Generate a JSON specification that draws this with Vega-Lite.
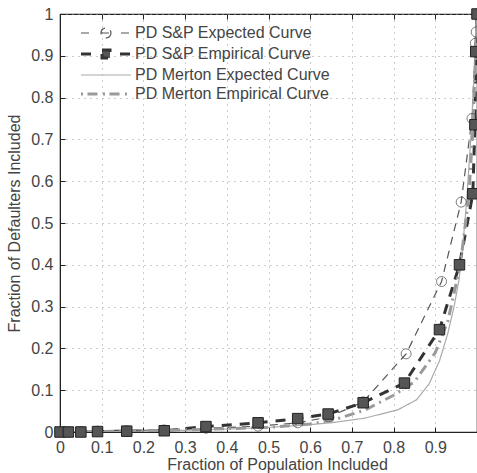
{
  "$schema": "https://vega.github.io/schema/vega-lite/v6.json",
  "width": 417,
  "height": 418,
  "autosize": {"type": "none"},
  "padding": {"left": 60, "top": 14, "right": 0, "bottom": 41},
  "background": "white",
  "config": {
    "font": "Liberation Sans",
    "view": {"stroke": "#222", "strokeWidth": 1.2},
    "axis": {"labelFont": "Liberation Sans", "titleFont": "Liberation Sans", "labelFontSize": 16, "titleFontSize": 16, "titleFontWeight": "normal", "labelColor": "#444", "titleColor": "#444", "domainColor": "#222", "tickColor": "#222", "gridColor": "#999", "gridDash": [1, 5], "gridWidth": 1}
  },
  "datasets": {
    "curves": [
      {"series": "PD S&P Expected Curve", "x": 0.0, "y": 0.0},
      {"series": "PD S&P Expected Curve", "x": 0.02, "y": 0.0},
      {"series": "PD S&P Expected Curve", "x": 0.05, "y": 0.001},
      {"series": "PD S&P Expected Curve", "x": 0.09, "y": 0.002},
      {"series": "PD S&P Expected Curve", "x": 0.16, "y": 0.003},
      {"series": "PD S&P Expected Curve", "x": 0.25, "y": 0.005},
      {"series": "PD S&P Expected Curve", "x": 0.35, "y": 0.009},
      {"series": "PD S&P Expected Curve", "x": 0.475, "y": 0.014},
      {"series": "PD S&P Expected Curve", "x": 0.57, "y": 0.022},
      {"series": "PD S&P Expected Curve", "x": 0.645, "y": 0.036},
      {"series": "PD S&P Expected Curve", "x": 0.727, "y": 0.072},
      {"series": "PD S&P Expected Curve", "x": 0.83, "y": 0.187},
      {"series": "PD S&P Expected Curve", "x": 0.915, "y": 0.36},
      {"series": "PD S&P Expected Curve", "x": 0.962, "y": 0.55},
      {"series": "PD S&P Expected Curve", "x": 0.988, "y": 0.75},
      {"series": "PD S&P Expected Curve", "x": 0.996, "y": 0.93},
      {"series": "PD S&P Expected Curve", "x": 0.998, "y": 0.957},
      {"series": "PD S&P Expected Curve", "x": 1.0, "y": 1.0},
      {"series": "PD S&P Empirical Curve", "x": 0.0, "y": 0.0},
      {"series": "PD S&P Empirical Curve", "x": 0.02, "y": 0.0},
      {"series": "PD S&P Empirical Curve", "x": 0.05, "y": 0.0},
      {"series": "PD S&P Empirical Curve", "x": 0.09, "y": 0.001},
      {"series": "PD S&P Empirical Curve", "x": 0.16, "y": 0.002},
      {"series": "PD S&P Empirical Curve", "x": 0.25, "y": 0.003},
      {"series": "PD S&P Empirical Curve", "x": 0.35, "y": 0.013},
      {"series": "PD S&P Empirical Curve", "x": 0.475, "y": 0.022},
      {"series": "PD S&P Empirical Curve", "x": 0.57, "y": 0.032},
      {"series": "PD S&P Empirical Curve", "x": 0.643, "y": 0.043},
      {"series": "PD S&P Empirical Curve", "x": 0.727, "y": 0.07},
      {"series": "PD S&P Empirical Curve", "x": 0.826, "y": 0.117},
      {"series": "PD S&P Empirical Curve", "x": 0.91, "y": 0.245},
      {"series": "PD S&P Empirical Curve", "x": 0.958, "y": 0.4},
      {"series": "PD S&P Empirical Curve", "x": 0.99, "y": 0.57},
      {"series": "PD S&P Empirical Curve", "x": 0.995, "y": 0.735},
      {"series": "PD S&P Empirical Curve", "x": 0.997, "y": 0.91},
      {"series": "PD S&P Empirical Curve", "x": 1.0, "y": 1.0},
      {"series": "PD Merton Expected Curve", "x": 0.0, "y": 0.0},
      {"series": "PD Merton Expected Curve", "x": 0.1, "y": 0.001},
      {"series": "PD Merton Expected Curve", "x": 0.2, "y": 0.002},
      {"series": "PD Merton Expected Curve", "x": 0.3, "y": 0.004},
      {"series": "PD Merton Expected Curve", "x": 0.4, "y": 0.007},
      {"series": "PD Merton Expected Curve", "x": 0.5, "y": 0.011},
      {"series": "PD Merton Expected Curve", "x": 0.58, "y": 0.016},
      {"series": "PD Merton Expected Curve", "x": 0.65, "y": 0.022},
      {"series": "PD Merton Expected Curve", "x": 0.73, "y": 0.033},
      {"series": "PD Merton Expected Curve", "x": 0.81, "y": 0.053},
      {"series": "PD Merton Expected Curve", "x": 0.855, "y": 0.077},
      {"series": "PD Merton Expected Curve", "x": 0.885, "y": 0.115},
      {"series": "PD Merton Expected Curve", "x": 0.91, "y": 0.17},
      {"series": "PD Merton Expected Curve", "x": 0.93, "y": 0.236},
      {"series": "PD Merton Expected Curve", "x": 0.945, "y": 0.3},
      {"series": "PD Merton Expected Curve", "x": 0.957, "y": 0.365},
      {"series": "PD Merton Expected Curve", "x": 0.965, "y": 0.435},
      {"series": "PD Merton Expected Curve", "x": 0.975, "y": 0.55},
      {"series": "PD Merton Expected Curve", "x": 0.985, "y": 0.7},
      {"series": "PD Merton Expected Curve", "x": 0.993, "y": 0.85},
      {"series": "PD Merton Expected Curve", "x": 1.0, "y": 1.0},
      {"series": "PD Merton Empirical Curve", "x": 0.0, "y": 0.0},
      {"series": "PD Merton Empirical Curve", "x": 0.1, "y": 0.001},
      {"series": "PD Merton Empirical Curve", "x": 0.2, "y": 0.003},
      {"series": "PD Merton Empirical Curve", "x": 0.3, "y": 0.005},
      {"series": "PD Merton Empirical Curve", "x": 0.4, "y": 0.008},
      {"series": "PD Merton Empirical Curve", "x": 0.5, "y": 0.011},
      {"series": "PD Merton Empirical Curve", "x": 0.6, "y": 0.019},
      {"series": "PD Merton Empirical Curve", "x": 0.66, "y": 0.03},
      {"series": "PD Merton Empirical Curve", "x": 0.73, "y": 0.052},
      {"series": "PD Merton Empirical Curve", "x": 0.8, "y": 0.088},
      {"series": "PD Merton Empirical Curve", "x": 0.85, "y": 0.12},
      {"series": "PD Merton Empirical Curve", "x": 0.9, "y": 0.19},
      {"series": "PD Merton Empirical Curve", "x": 0.93, "y": 0.265},
      {"series": "PD Merton Empirical Curve", "x": 0.96, "y": 0.4},
      {"series": "PD Merton Empirical Curve", "x": 0.98, "y": 0.56},
      {"series": "PD Merton Empirical Curve", "x": 0.99, "y": 0.72},
      {"series": "PD Merton Empirical Curve", "x": 1.0, "y": 1.0}
    ]
  },
  "data": {"name": "curves"},
  "resolve": {"axis": {"x": "independent"}},
  "layer": [
    {
      "mark": {"type": "line", "clip": true},
      "encoding": {
        "x": {"field": "x", "type": "quantitative", "scale": {"domain": [0, 1], "nice": false, "zero": false},
          "axis": {"title": "Fraction of Population Included", "titleX": 217, "values": [0, 0.1, 0.2, 0.3, 0.4, 0.5, 0.6, 0.7, 0.8, 0.9, 1], "labelExpr": "datum.value == 1 ? '' : datum.label", "format": "~g", "tickSize": -5, "labelPadding": 12, "titlePadding": 1, "grid": true, "labelFlush": false}},
        "y": {"field": "y", "type": "quantitative", "scale": {"domain": [0, 1], "nice": false, "zero": false},
          "axis": {"title": "Fraction of Defaulters Included", "values": [0, 0.1, 0.2, 0.3, 0.4, 0.5, 0.6, 0.7, 0.8, 0.9, 1], "format": "~g", "tickSize": -5, "labelPadding": 12, "titlePadding": 8, "grid": true, "labelFlush": false}},
        "order": {"field": "x", "type": "quantitative"},
        "color": {"field": "series", "type": "nominal",
          "scale": {"domain": ["PD S&P Expected Curve", "PD S&P Empirical Curve", "PD Merton Expected Curve", "PD Merton Empirical Curve"], "range": ["#555555", "#333333", "#aaaaaa", "#9a9a9a"]},
          "legend": {"title": null, "orient": "none", "legendX": 38, "legendY": 11, "symbolType": "M-5,0H5", "symbolSize": 100, "labelFontSize": 16, "labelColor": "#444", "labelFont": "Liberation Sans", "labelLimit": 400, "rowPadding": 3, "labelOffset": 21,
            "encode": {"symbols": {"update": {
              "shape": {"signal": "datum.value === 'PD S&P Expected Curve' ? 'M-5,0H-3M-1,0H1M1,0C1,0.552 0.552,1 0,1C-0.552,1 -1,0.552 -1,0C-1,-0.552 -0.552,-1 0,-1C0.552,-1 1,-0.552 1,0ZM3,0H5' : datum.value === 'PD S&P Empirical Curve' ? 'M-5,0H-2.8M2.8,0H5M-0.8,-0.8H0.8V0.8H-0.8Z' : datum.value === 'PD Merton Expected Curve' ? 'M-5,0H5' : 'M-5,0H-4.6M-3.7,0H-1.5M-0.6,0H-0.2M0.7,0H2.9M3.8,0H4.2'"},
              "strokeDash": {"value": [1, 0]},
              "fill": {"signal": "datum.value === 'PD S&P Empirical Curve' ? '#555555' : 'transparent'"}
            }}}}},
        "strokeDash": {"field": "series", "type": "nominal",
          "scale": {"domain": ["PD S&P Expected Curve", "PD S&P Empirical Curve", "PD Merton Expected Curve", "PD Merton Empirical Curve"], "range": [[8, 6], [10, 8], [1, 0], [10, 5, 2, 5]]}},
        "strokeWidth": {"field": "series", "type": "nominal",
          "scale": {"type": "ordinal", "domain": ["PD S&P Expected Curve", "PD S&P Empirical Curve", "PD Merton Expected Curve", "PD Merton Empirical Curve"], "range": [1.2, 3, 1.2, 3]}}
      }
    },
    {
      "transform": [{"filter": "datum.series === 'PD S&P Expected Curve'"}],
      "mark": {"type": "point", "shape": "circle", "filled": false, "stroke": "#444", "strokeWidth": 1, "size": 100, "clip": false},
      "encoding": {
        "x": {"field": "x", "type": "quantitative", "axis": {"orient": "top", "title": null, "labels": false, "domain": false, "grid": false, "values": [0, 0.1, 0.2, 0.3, 0.4, 0.5, 0.6, 0.7, 0.8, 0.9, 1], "tickSize": -5}},
        "y": {"field": "y", "type": "quantitative"}
      }
    },
    {
      "transform": [{"filter": "datum.series === 'PD S&P Empirical Curve'"}],
      "mark": {"type": "point", "shape": "square", "filled": true, "fill": "#555", "stroke": "#222", "strokeWidth": 1, "size": 110, "opacity": 1, "clip": false},
      "encoding": {
        "x": {"field": "x", "type": "quantitative", "axis": null},
        "y": {"field": "y", "type": "quantitative"}
      }
    }
  ]
}
